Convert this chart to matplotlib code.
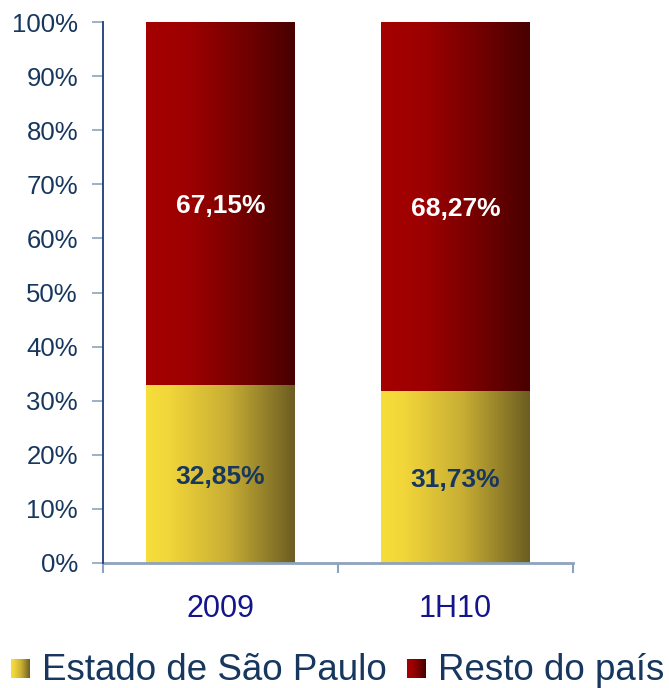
import numpy as np
import matplotlib
matplotlib.use('Agg')
import matplotlib.pyplot as plt
from matplotlib.colors import LinearSegmentedColormap

plt.rcParams['font.family'] = ['Liberation Sans', 'DejaVu Sans']

categories = ['2009', '1H10']
sao_paulo = [32.85, 31.73]
resto = [67.15, 68.27]
series_names = ['Estado de São Paulo', 'Resto do país']

navy = '#17375E'
axis_blue = '#1F3C78'
grid_blue = '#8CA3BD'

yellow_cm = LinearSegmentedColormap.from_list(
    'yel', [(0.0, '#F7DE3A'), (0.15, '#F2D63A'), (0.55, '#C8AE34'), (1.0, '#6C5D22')])
red_cm = LinearSegmentedColormap.from_list(
    'red', [(0.0, '#A50000'), (0.3, '#9C0000'), (0.7, '#6E0000'), (1.0, '#480000')])
grad = np.linspace(0, 1, 256).reshape(1, -1)


def fill_gradient(ax, bars, cmap):
    for b in bars:
        x0, y0 = b.get_x(), b.get_y()
        im = ax.imshow(grad, cmap=cmap, aspect='auto', interpolation='bilinear',
                       extent=[x0, x0 + b.get_width(), y0, y0 + b.get_height()], zorder=2)
        im.set_clip_path(b)


fig = plt.figure(figsize=(6.69, 6.88), dpi=100)
ax = fig.add_axes([0.154, 0.1817, 0.7025, 0.7863])

x = np.arange(len(categories))
w = 0.63
bars_sp = ax.bar(x, sao_paulo, w, color='none', edgecolor='none')
bars_re = ax.bar(x, resto, w, bottom=sao_paulo, color='none', edgecolor='none')
fill_gradient(ax, bars_sp, yellow_cm)
fill_gradient(ax, bars_re, red_cm)

for i in range(len(categories)):
    ax.text(x[i], sao_paulo[i] / 2, f"{sao_paulo[i]:.2f}%".replace('.', ','),
            ha='center', va='center_baseline', fontsize=19, fontweight='bold',
            color=navy, zorder=3)
    ax.text(x[i], sao_paulo[i] + resto[i] / 2, f"{resto[i]:.2f}%".replace('.', ','),
            ha='center', va='center_baseline', fontsize=19, fontweight='bold',
            color='white', zorder=3)

ax.set_xlim(-0.5, len(categories) - 0.5)
ax.set_ylim(0, 100)

ax.set_yticks(np.arange(0, 101, 10))
ax.set_yticklabels([f"{v}%" for v in range(0, 101, 10)])
ax.tick_params(axis='y', length=8, width=1.2, color=grid_blue, pad=10,
               labelsize=18.5, labelcolor=navy)

ax.set_xticks(x)
ax.set_xticklabels(categories)
ax.set_xticks(np.arange(-0.5, len(categories), 1.0), minor=True)
ax.tick_params(axis='x', which='major', length=0, pad=22, labelsize=22, labelcolor='#14148C')
ax.tick_params(axis='x', which='minor', length=7, width=1.5, color=grid_blue, direction='out')
ax.xaxis.get_minor_ticks()[0].tick1line.set_color(axis_blue)

for s in ['top', 'right']:
    ax.spines[s].set_visible(False)
ax.spines['left'].set_color(axis_blue)
ax.spines['left'].set_linewidth(1.3)
ax.spines['bottom'].set_color(grid_blue)
ax.spines['bottom'].set_linewidth(2)
ax.spines['left'].set_zorder(4)

# legend
for lx, cmap, tx, name in [(0.0164, yellow_cm, 0.0628, series_names[0]),
                           (0.6084, red_cm, 0.6547, series_names[1])]:
    lax = fig.add_axes([lx, 0.0145, 0.0284, 0.0276])
    lax.imshow(grad, cmap=cmap, aspect='auto', interpolation='bilinear')
    lax.axis('off')
    fig.text(tx, 0.0116, name, fontsize=26.5, color=navy, va='baseline', ha='left')

fig.savefig('out.png', dpi=100)
